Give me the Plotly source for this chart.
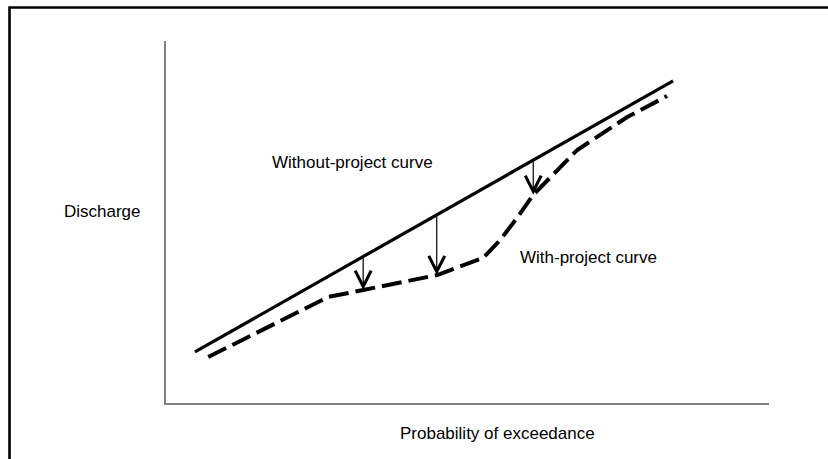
import numpy as np
import plotly.graph_objects as go

# Schematic data (abstract units 0-100 on both axes)
without_x = [4.8, 84.1]
without_y = [14.1, 89.0]

with_x = [7.0, 26.9, 32.7, 45.1, 52.6, 55.4, 58.2, 60.9, 68.2, 76.5, 83.1]
with_y = [12.7, 29.3, 31.2, 35.4, 40.1, 45.0, 51.1, 57.5, 69.9, 79.0, 84.8]

arrow_x = [32.7, 44.9, 60.9]

FONT = "Liberation Sans, Arial, sans-serif"
FS = 17

fig = go.Figure()
fig.add_trace(go.Scatter(x=without_x, y=without_y, mode="lines",
                         line=dict(color="black", width=3.2), hoverinfo="skip"))
fig.add_trace(go.Scatter(x=with_x, y=with_y, mode="lines",
                         line=dict(color="black", width=4, dash="20px,7px"), hoverinfo="skip"))

for ax_ in arrow_x:
    top = float(np.interp(ax_, without_x, without_y))
    tip = float(np.interp(ax_, with_x, with_y))
    fig.add_annotation(x=ax_, y=tip, ax=ax_, ay=top, xref="x", yref="y",
                       axref="x", ayref="y", text="", showarrow=True,
                       arrowhead=5, arrowsize=2.6, arrowwidth=1.2,
                       arrowcolor="black", standoff=0)

def label(x, y, text, ref):
    fig.add_annotation(x=x, y=y, xref=ref[0], yref=ref[1], text=text, showarrow=False,
                       xanchor="center", yanchor="middle",
                       font=dict(family=FONT, size=FS, color="black"))

label(30.85, 66.3, "Without-project curve", ("x", "y"))
label(70.0, 40.1, "With-project curve", ("x", "y"))
label(-0.106, 0.528, "Discharge", ("paper", "paper"))
label(0.549, -0.083, "Probability of exceedance", ("paper", "paper"))

# outer frame (right and bottom edges fall outside the picture)
fig.add_shape(type="rect", xref="paper", yref="paper", x0=-0.2595, x1=1.3, y0=-0.3, y1=1.0925,
              line=dict(color="black", width=2.6))

fig.update_xaxes(range=[0, 100], showline=True, linecolor="#808080", linewidth=2,
                 showgrid=False, zeroline=False, showticklabels=False, ticks="")
fig.update_yaxes(range=[0, 100], showline=True, linecolor="#808080", linewidth=2,
                 showgrid=False, zeroline=False, showticklabels=False, ticks="")
fig.update_layout(width=828, height=459, margin=dict(l=166, r=59, t=41, b=56),
                  paper_bgcolor="white", plot_bgcolor="white", showlegend=False)

fig.write_html("out.html", config={"displayModeBar": False},
               post_script="document.body.style.margin='0';document.body.style.overflow='hidden';")
